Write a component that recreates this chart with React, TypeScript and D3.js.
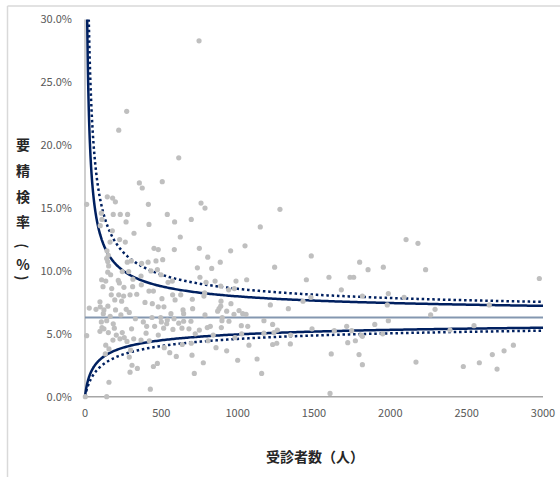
import React from "react";
import * as d3 from "d3";

// Facilities: number of examinees (人) and rate requiring further examination (%)
const examinees: number[] = [
  747, 273, 221, 614, 356, 375, 506, 146, 181, 199, 415, 760, 11, 786, 1277, 1148, 1048, 954, 804, 886,
  830, 1482, 1242, 2103, 2181, 1799, 1854, 1954, 2231, 2976, 753, 793, 852, 889, 989, 1059, 1450, 1598, 1736, 1760,
  1679, 1480, 1428, 1332, 1214, 1817, 1987, 2090, 1980, 2648, 2293, 2264, 1987, 1487, 1633, 1714, 1747, 1810, 1817, 1721,
  1771, 1898, 1950, 1613, 1795, 1817, 1605, 2168, 2391, 2548, 2478, 2583, 2668, 2699, 2745, 2806, 1345, 1347,
  784, 779, 941, 978, 891, 956, 889, 878, 869, 928, 1009, 976, 1033, 1055, 786, 899, 897, 943, 1172, 801,
  821, 893, 1024, 1066, 1229, 1260, 1238, 1026, 1172, 840, 982, 806, 1229, 1256, 1074, 858, 928, 1000, 1127, 775,
  1157,
  539, 419, 587, 696, 624, 452, 480, 585, 749, 413, 465, 509, 736, 371, 432, 474, 498, 572, 544, 369,
  419, 448, 574, 627, 504, 590, 703, 393, 441, 480, 517, 642, 705, 563, 646, 439, 496, 539, 583, 382,
  500, 535, 614, 646, 694, 404, 456, 515, 576, 635, 681, 749, 722, 400, 480, 421, 637, 696, 519, 555,
  701, 598, 474, 448, 716, 428,
  185, 231, 279, 111, 321, 179, 100, 227, 164, 264, 142, 149, 155, 277, 303, 244, 286, 149, 168, 109,
  136, 218, 314, 367, 118, 175, 225, 255, 312, 172, 221, 253, 295, 339, 98, 100, 124, 28, 72, 11,
  111, 98, 124, 192, 153, 205, 244, 229, 183, 257, 275, 319, 367, 107, 142, 136, 157, 133, 299, 290,
  308, 343, 295, 157, 142, 2, 107, 269, 144, 153,
  120, 165, 200, 235, 290, 330, 185, 305, 270, 240, 195, 150
];
const rates: number[] = [
  28.3, 22.7, 21.2, 19.0, 17.0, 16.6, 17.1, 15.9, 15.8, 15.5, 15.3, 15.4, 15.3, 15.0, 14.9, 13.5, 12.0, 11.6, 11.1, 10.7,
  10.2, 11.2, 10.3, 12.5, 12.2, 10.7, 10.1, 10.3, 10.1, 9.4, 9.5, 9.1, 9.2, 8.8, 9.2, 9.3, 9.3, 9.5, 9.5, 9.5,
  8.5, 7.9, 7.6, 7.0, 7.3, 8.0, 8.2, 7.9, 7.3, 7.3, 6.95, 6.5, 6.05, 5.4, 5.25, 5.6, 5.25, 4.9, 4.8, 4.3,
  4.45, 5.75, 5.0, 3.4, 3.35, 2.55, 0.26, 2.75, 5.3, 5.65, 2.4, 2.7, 3.35, 2.2, 3.65, 4.1, 4.2, 4.9,
  8.25, 8.0, 8.5, 8.6, 7.6, 7.4, 7.2, 7.0, 6.8, 6.8, 6.85, 6.55, 6.6, 6.55, 6.5, 6.3, 6.05, 6.0, 6.05, 5.5,
  5.6, 5.5, 5.65, 5.6, 5.75, 5.3, 5.1, 5.0, 5.05, 4.9, 4.7, 4.45, 4.15, 4.25, 4.1, 3.9, 3.65, 2.9, 3.0, 2.7,
  1.85,
  14.5, 13.7, 13.9, 14.1, 12.7, 11.8, 11.7, 11.7, 11.8, 10.7, 10.8, 10.9, 10.25, 10.6, 10.0, 10.1, 9.7, 9.2, 9.1, 8.9,
  8.4, 8.4, 8.1, 8.1, 7.8, 7.7, 7.75, 7.5, 7.4, 7.15, 7.15, 6.9, 7.0, 6.6, 6.6, 6.3, 6.3, 6.1, 6.2, 5.95,
  5.95, 5.8, 5.85, 6.0, 6.0, 5.6, 5.6, 5.45, 5.35, 5.45, 5.4, 5.3, 5.0, 5.05, 4.9, 4.45, 4.15, 4.25, 3.9, 3.5,
  3.3, 3.2, 2.65, 2.4, 1.85, 0.6,
  14.5, 14.5, 14.5, 14.1, 13.0, 13.2, 13.6, 12.5, 12.3, 12.3, 11.0, 10.75, 10.4, 10.7, 10.8, 9.95, 9.95, 9.9, 9.7, 9.3,
  9.2, 9.25, 9.35, 9.6, 8.75, 8.6, 9.05, 8.7, 8.75, 8.1, 8.1, 8.0, 8.1, 8.15, 7.55, 7.15, 6.9, 7.05, 6.95, 4.85,
  5.5, 5.2, 5.4, 5.45, 5.1, 4.9, 5.1, 4.6, 4.5, 4.7, 4.4, 4.6, 4.5, 5.95, 6.05, 4.1, 3.8, 3.4, 3.7, 3.15,
  2.5, 2.25, 1.95, 1.15, 0, 0, 14.6, 13.9, 11.6, 11.25,
  6.6, 6.4, 6.9, 6.5, 6.7, 6.2, 5.8, 5.4, 6.95, 7.6, 7.7, 7.2
];

const meanRate = 0.063; // overall rate
const zInner = 1.96; // 95% limits (solid)
const zOuter = 2.576; // 99% limits (dotted)

const yTicks = [0, 0.05, 0.1, 0.15, 0.2, 0.25, 0.3];
const xTicks = [0, 500, 1000, 1500, 2000, 2500, 3000];
const yTitleChars = ["要", "精", "検", "率"];
const xTitle = "受診者数（人）";

// limit: rate r where |r - p| = z*sqrt(r(1-r)/n)
function limit(n: number, z: number, upper: boolean) {
  const p = meanRate;
  const k = (z * z) / n;
  const b = 2 * p + k;
  const disc = Math.sqrt(b * b - 4 * (1 + k) * p * p);
  return (b + (upper ? disc : -disc)) / (2 * (1 + k));
}

export default function App() {
  const W = 560, H = 477;
  const x = d3.scaleLinear().domain([0, 3000]).range([85, 543]);
  const y = d3.scaleLinear().domain([0, 0.3]).range([396.7, 19.5]);
  const grid = [...d3.range(0.3, 20, 0.1), ...d3.range(20, 100, 1), ...d3.range(100, 3001, 10)];
  const meanLine = d3
    .line<number>()
    .x((n) => x(n))
    .y(() => y(meanRate))([0, 3000]) as string;
  const curve = (z: number, upper: boolean) =>
    d3
      .line<number>()
      .x((n) => x(n))
      .y((n) => y(limit(n, z, upper)))(grid) as string;
  const font = "'Noto Sans CJK JP', 'Noto Sans', sans-serif";
  const navy = "#002060";
  const tx = 23;
  return (
    <svg width={W} height={H} style={{ position: "absolute", left: 0, top: 0, background: "#fff" }}>
      <defs>
        <clipPath id="plot">
          <rect x={84} y={19.5} width={470} height={380} />
        </clipPath>
      </defs>
      <line x1={7.5} x2={W} y1={6} y2={6} stroke="#D9D9D9" strokeWidth={1.5} />
      <line x1={7.5} x2={7.5} y1={6} y2={H} stroke="#D9D9D9" strokeWidth={1.5} />
      <line x1={x(0)} x2={x(0)} y1={y(0.3)} y2={y(0)} stroke="#BFBFBF" strokeWidth={1.5} />
      <line x1={x(0)} x2={x(3000)} y1={y(0)} y2={y(0)} stroke="#A6A6A6" strokeWidth={1.5} />
      {yTicks.map((t) => (
        <text key={t} x={72} y={y(t)} dy="0.35em" textAnchor="end" fontSize={11} fill="#595959" fontFamily={font}>
          {d3.format(".1%")(t)}
        </text>
      ))}
      {xTicks.map((t) => (
        <text key={t} x={x(t)} y={417} textAnchor="middle" fontSize={11} fill="#595959" fontFamily={font}>
          {t}
        </text>
      ))}
      <g clipPath="url(#plot)">
        <path d={meanLine} stroke="#8497B0" strokeWidth={2} fill="none" />
        <path d={curve(zInner, true)} stroke={navy} strokeWidth={2.5} fill="none" />
        <path d={curve(zInner, false)} stroke={navy} strokeWidth={2.5} fill="none" />
        <path d={curve(zOuter, true)} stroke={navy} strokeWidth={2.5} strokeDasharray="2.5 2.8" fill="none" />
        <path d={curve(zOuter, false)} stroke={navy} strokeWidth={2.5} strokeDasharray="2.5 2.8" fill="none" />
      </g>
      {examinees.map((n, i) => (
        <circle key={i} cx={x(n)} cy={y(rates[i] / 100)} r={2.6} fill="#BFBFBF" />
      ))}
      <g fontFamily={font} fontSize={14} fontWeight="bold" fill="#262626" textAnchor="middle">
        {yTitleChars.map((c, i) => (
          <text key={i} x={tx} y={[145, 171.5, 197, 222][i]} dy="0.35em">
            {c}
          </text>
        ))}
        <text x={tx} y={246} dominantBaseline="central" transform={`rotate(90 ${tx} 246)`}>
          (
        </text>
        <text x={tx} y={265} dy="0.35em">
          %
        </text>
        <text x={tx} y={278} dominantBaseline="central" transform={`rotate(90 ${tx} 278)`}>
          )
        </text>
        <text x={315} y={456.7} dy="0.35em">
          {xTitle}
        </text>
      </g>
    </svg>
  );
}
